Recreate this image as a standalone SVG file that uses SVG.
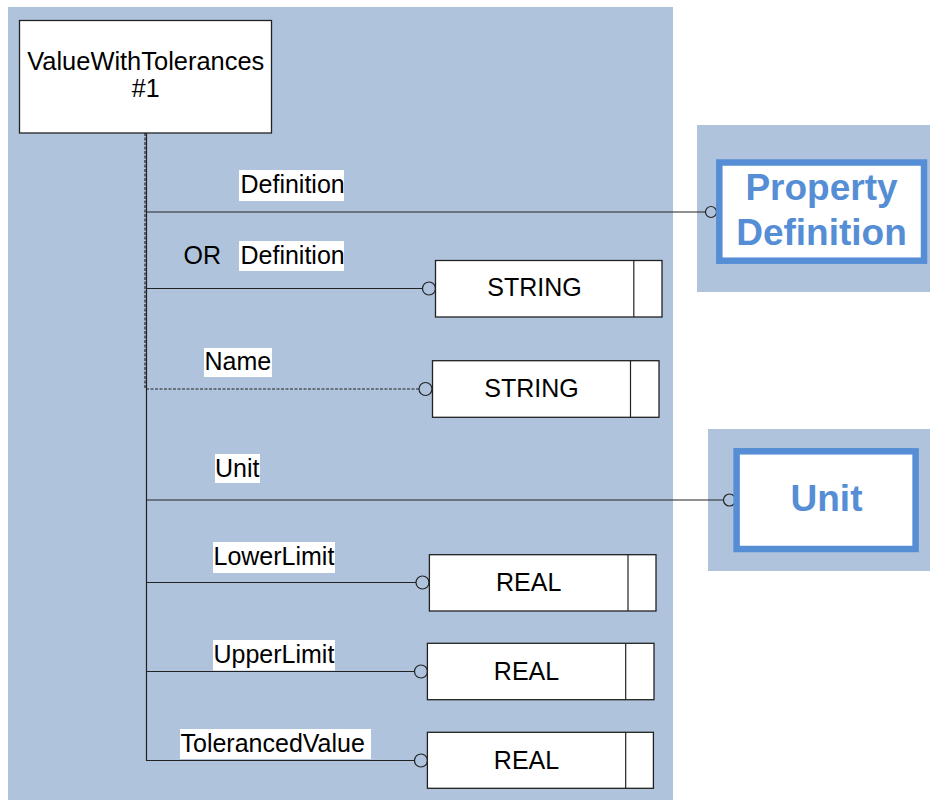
<svg xmlns="http://www.w3.org/2000/svg" width="930" height="800" viewBox="0 0 930 800">
<style>
.panel{fill:#B0C3DC;stroke:none}
.box{fill:#fff;stroke:#222;stroke-width:1.3}
.ent{fill:#fff;stroke:#558ED5;stroke-width:6.5}
.t{font-family:"Liberation Sans",Arial,sans-serif;font-size:25px;fill:#000}
.et{font-family:"Liberation Sans",Arial,sans-serif;font-size:37px;font-weight:bold;fill:#558ED5;text-anchor:middle}
.lbg{fill:#fff;stroke:none}
.ln{stroke:#222;stroke-width:1.2;fill:none}
.dash{stroke:#222;stroke-width:1.2;fill:none;stroke-dasharray:3 1.5}
.c{fill:none;stroke:#222;stroke-width:1.2}
</style>
<rect class="panel" x="8" y="7" width="665" height="793"/>
<rect class="panel" x="697" y="125" width="233" height="167"/>
<rect class="panel" x="708" y="429" width="222" height="142"/>

<g id="connectors">
  <line class="ln" x1="146.5" y1="133" x2="146.5" y2="760.5"/>
  <line class="dash" x1="145" y1="133" x2="145" y2="389"/>
  <line class="ln" x1="146" y1="212" x2="705.5" y2="212"/>
  <circle class="c" cx="711" cy="212" r="5.5"/>
  <line class="ln" x1="146" y1="288.5" x2="422.5" y2="288.5"/>
  <circle class="c" cx="429" cy="288.5" r="6.5"/>
  <line class="dash" x1="146" y1="389" x2="419" y2="389"/>
  <circle class="c" cx="425.5" cy="389" r="6.5"/>
  <line class="ln" x1="146" y1="500" x2="723.5" y2="500"/>
  <circle class="c" cx="729.5" cy="500" r="6"/>
  <line class="ln" x1="146" y1="582.5" x2="416" y2="582.5"/>
  <circle class="c" cx="422.5" cy="582.5" r="6.5"/>
  <line class="ln" x1="146" y1="671.5" x2="414.5" y2="671.5"/>
  <circle class="c" cx="421" cy="671.5" r="6.5"/>
  <line class="ln" x1="146" y1="760.5" x2="414.5" y2="760.5"/>
  <circle class="c" cx="421" cy="760.5" r="6.5"/>
</g>

<g id="labels">
  <rect class="lbg" x="239" y="170" width="105" height="31"/>
  <text class="t" x="240.5" y="192.5">Definition</text>
  <text class="t" x="183.5" y="263.5">OR</text>
  <rect class="lbg" x="239" y="241" width="105" height="30"/>
  <text class="t" x="240.5" y="263.5">Definition</text>
  <rect class="lbg" x="204" y="348" width="68" height="29"/>
  <text class="t" x="204.5" y="369.5">Name</text>
  <rect class="lbg" x="215" y="454" width="45" height="29"/>
  <text class="t" x="215" y="476.5">Unit</text>
  <rect class="lbg" x="213" y="542" width="122" height="31"/>
  <text class="t" x="213.5" y="565">LowerLimit</text>
  <rect class="lbg" x="213" y="640" width="122" height="30.5"/>
  <text class="t" x="213.5" y="662.5">UpperLimit</text>
  <rect class="lbg" x="180" y="729" width="191" height="30"/>
  <text class="t" x="180.5" y="751.5">TolerancedValue</text>
</g>

<g id="ValueWithTolerances">
  <rect class="box" x="19.5" y="20.5" width="252" height="112.5"/>
  <text class="t" x="145.75" y="69.5" text-anchor="middle" textLength="237" lengthAdjust="spacingAndGlyphs">ValueWithTolerances</text>
  <text class="t" x="145.75" y="97" text-anchor="middle">#1</text>
</g>

<g id="PropertyDefinition">
  <rect class="ent" x="719.3" y="162.5" width="204.7" height="98.2"/>
  <text class="et" x="821.5" y="200">Property</text>
  <text class="et" x="821.5" y="244.5">Definition</text>
</g>

<g id="Unit">
  <rect class="ent" x="736.6" y="451.3" width="179" height="97.7"/>
  <text class="et" x="826.5" y="511">Unit</text>
</g>

<g id="String1">
  <rect class="box" x="435.5" y="260.5" width="226.5" height="56.5"/>
  <line class="ln" x1="633.8" y1="260.5" x2="633.8" y2="317"/>
  <text class="t" x="534.5" y="296" text-anchor="middle">STRING</text>
</g>

<g id="String2">
  <rect class="box" x="432.5" y="360.7" width="226.5" height="56.6"/>
  <line class="ln" x1="630.5" y1="360.7" x2="630.5" y2="417.3"/>
  <text class="t" x="531.5" y="397" text-anchor="middle">STRING</text>
</g>

<g id="Real1">
  <rect class="box" x="429.4" y="554.7" width="226.6" height="56.3"/>
  <line class="ln" x1="628" y1="554.7" x2="628" y2="611"/>
  <text class="t" x="528.7" y="591" text-anchor="middle">REAL</text>
</g>

<g id="Real2">
  <rect class="box" x="427.4" y="643.3" width="226.6" height="56.4"/>
  <line class="ln" x1="625.7" y1="643.3" x2="625.7" y2="699.7"/>
  <text class="t" x="526.5" y="680" text-anchor="middle">REAL</text>
</g>

<g id="Real3">
  <rect class="box" x="427.4" y="732.3" width="226" height="56"/>
  <line class="ln" x1="625.7" y1="732.3" x2="625.7" y2="788.3"/>
  <text class="t" x="526.5" y="768.5" text-anchor="middle">REAL</text>
</g>
</svg>
